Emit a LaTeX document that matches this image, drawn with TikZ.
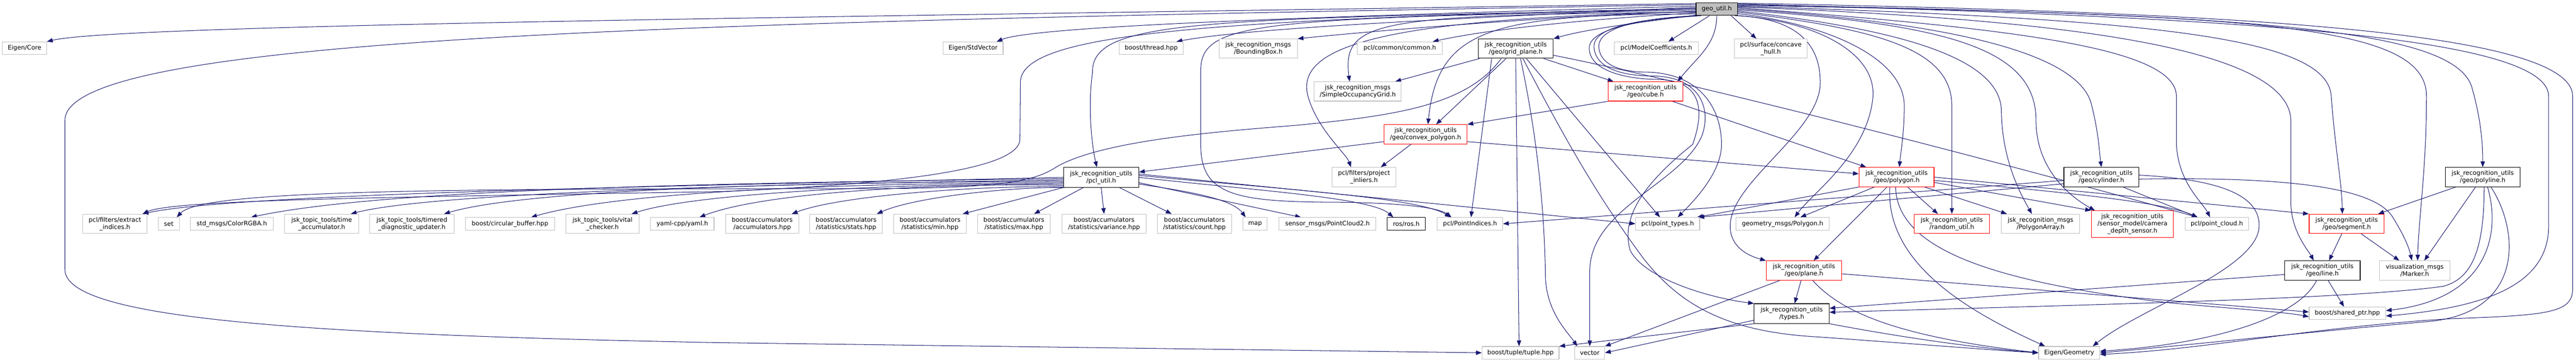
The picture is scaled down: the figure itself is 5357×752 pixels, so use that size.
\documentclass[tikz,border=0pt]{standalone}
\usepackage{fontspec}
\setmainfont{DejaVu Sans}
\usetikzlibrary{arrows.meta}
\pgfdeclarelayer{background}
\pgfsetlayers{background,main}
\definecolor{edgec}{HTML}{191970}
\definecolor{greyb}{HTML}{BFBFBF}
\begin{document}
\begin{tikzpicture}[x=1pt,y=-1pt,
  nbox/.style={rectangle, inner sep=0pt, align=center, font=\fontsize{12.8}{15}\selectfont, line width=1.2pt, fill=white},
  ext/.style={nbox, draw=greyb},
  doc/.style={nbox, draw=black},
  redb/.style={nbox, draw=red},
  root/.style={nbox, draw=black, fill=greyb},
  wh/.style 2 args={minimum width=#1pt, minimum height=#2pt},
  edg/.style={draw=edgec, line width=1.1pt, -{Triangle[length=12pt,width=9pt]}},
]
\useasboundingbox (0,0) rectangle (5357,752);
% ---------------- nodes ----------------
\node[root, wh={86}{26}] (G) at (3570,19) {geo\_util.h};
\node[ext, wh={92}{26}] (eigencore) at (51,100) {Eigen/Core};
\node[ext, wh={125}{26}] (stdvector) at (2023.5,100) {Eigen/StdVector};
\node[ext, wh={132}{26}] (thread) at (2394,100) {boost/thread.hpp};
\node[ext, wh={163}{40}] (bbox) at (2616.5,101) {jsk\_recognition\_msgs\\/BoundingBox.h};
\node[ext, wh={176}{26}] (common) at (2911,100) {pcl/common/common.h};
\node[doc, wh={156}{40}] (GP) at (3152,101) {jsk\_recognition\_utils\\/geo/grid\_plane.h};
\node[ext, wh={175}{26}] (modelcoef) at (3444.5,100) {pcl/ModelCoefficients.h};
\node[ext, wh={151}{40}] (concave) at (3682.5,101) {pcl/surface/concave\\\_hull.h};
\node[ext, wh={181}{40}] (occgrid) at (2823.5,190) {jsk\_recognition\_msgs\\/SimpleOccupancyGrid.h};
\node[redb, wh={156}{40}] (CB) at (3422,190) {jsk\_recognition\_utils\\/geo/cube.h};
\node[redb, wh={173}{40}] (CV) at (2964.5,279) {jsk\_recognition\_utils\\/geo/convex\_polygon.h};
\node[doc, wh={156}{41}] (P) at (2290,368.5) {jsk\_recognition\_utils\\/pcl\_util.h};
\node[ext, wh={133}{40}] (projinl) at (2836.5,368) {pcl/filters/project\\\_inliers.h};
\node[redb, wh={156}{40}] (PG) at (3944,368) {jsk\_recognition\_utils\\/geo/polygon.h};
\node[doc, wh={156}{40}] (CY) at (4370,368) {jsk\_recognition\_utils\\/geo/cylinder.h};
\node[doc, wh={156}{40}] (PL) at (5163,368) {jsk\_recognition\_utils\\/geo/polyline.h};
\node[ext, wh={134}{40}] (extract) at (239,465) {pcl/filters/extract\\\_indices.h};
\node[ext, wh={44}{26}] (nset) at (351,465) {set};
\node[ext, wh={172}{26}] (colorrgba) at (482,465) {std\_msgs/ColorRGBA.h};
\node[ext, wh={154}{40}] (timeacc) at (669,465) {jsk\_topic\_tools/time\\\_accumulator.h};
\node[ext, wh={175}{40}] (timered) at (856.5,465) {jsk\_topic\_tools/timered\\\_diagnostic\_updater.h};
\node[ext, wh={185}{26}] (circbuf) at (1060.5,465) {boost/circular\_buffer.hpp};
\node[ext, wh={152}{40}] (vital) at (1253,465) {jsk\_topic\_tools/vital\\\_checker.h};
\node[ext, wh={132}{26}] (yaml) at (1419,465) {yaml-cpp/yaml.h};
\node[ext, wh={152}{40}] (accum) at (1585,465) {boost/accumulators\\/accumulators.hpp};
\node[ext, wh={151}{40}] (stats) at (1759.5,465) {boost/accumulators\\/statistics/stats.hpp};
\node[ext, wh={151}{40}] (nmin) at (1934,465) {boost/accumulators\\/statistics/min.hpp};
\node[ext, wh={151}{40}] (nmax) at (2108.5,465) {boost/accumulators\\/statistics/max.hpp};
\node[ext, wh={174}{40}] (variance) at (2296,465) {boost/accumulators\\/statistics/variance.hpp};
\node[ext, wh={154}{40}] (count) at (2484,465) {boost/accumulators\\/statistics/count.hpp};
\node[ext, wh={50}{26}] (nmap) at (2610,465) {map};
\node[ext, wh={201}{26}] (pc2) at (2760.5,465) {sensor\_msgs/PointCloud2.h};
\node[doc, wh={79}{26}] (ros) at (2924.5,465) {ros/ros.h};
\node[ext, wh={136}{26}] (ptidx) at (3057,465) {pcl/PointIndices.h};
\node[ext, wh={133}{26}] (pttypes) at (3468,465) {pcl/point\_types.h};
\node[ext, wh={194}{26}] (geopoly) at (3707,465) {geometry\_msgs/Polygon.h};
\node[redb, wh={156}{40}] (random) at (4059,465) {jsk\_recognition\_utils\\/random\_util.h};
\node[ext, wh={163}{40}] (polyarr) at (4243.5,465) {jsk\_recognition\_msgs\\/PolygonArray.h};
\node[redb, wh={171}{55}] (camera) at (4434.5,465.5) {jsk\_recognition\_utils\\/sensor\_model/camera\\\_depth\_sensor.h};
\node[ext, wh={132}{26}] (ptcloud) at (4610,465) {pcl/point\_cloud.h};
\node[redb, wh={156}{40}] (SG) at (4880,465) {jsk\_recognition\_utils\\/geo/segment.h};
\node[redb, wh={157}{40}] (PN) at (3751.5,562) {jsk\_recognition\_utils\\/geo/plane.h};
\node[doc, wh={157}{40}] (LN) at (4829.5,562) {jsk\_recognition\_utils\\/geo/line.h};
\node[ext, wh={147}{40}] (marker) at (5021.5,562) {visualization\_msgs\\/Marker.h};
\node[doc, wh={156}{41}] (TY) at (3726,651.5) {jsk\_recognition\_utils\\/types.h};
\node[ext, wh={159}{26}] (sharedptr) at (4881.5,651) {boost/shared\_ptr.hpp};
\node[ext, wh={160}{26}] (tuple) at (3162,733) {boost/tuple/tuple.hpp};
\node[ext, wh={62}{26}] (nvector) at (3306,733) {vector};
\node[ext, wh={127}{26}] (eigengeom) at (4303,733) {Eigen/Geometry};
% ---------------- edges ----------------
\begin{pgfonlayer}{background}
\fill[white] (0,0) rectangle (5357,752);
% geo_util.h, left side
\draw[edg] (G.165) .. controls (1800,35) and (250,50) .. (eigencore.north east);
\draw[edg] (G.168) .. controls (1500,45) and (135,70) .. (135,250) -- (135,560) .. controls (135,660) and (600,695) .. (1500,712) -- (tuple.west);
\draw[edg] (G.172) .. controls (2700,35) and (2150,55) .. ([xshift=-14pt]stdvector.north east);
\draw[edg] (G.175) .. controls (3000,40) and (2600,58) .. ([xshift=-14pt]thread.north east);
\draw[edg] (G.186) .. controls (3200,35) and (2850,65) .. (bbox.north east);
\draw[edg] (G.190) .. controls (3300,40) and (3100,60) .. ([xshift=-20pt]common.north east);
\draw[edg] (G.196) .. controls (3420,45) and (3300,60) .. (GP.north east);
\draw[edg] ([xshift=-15pt]G.south) -- ([xshift=25pt]modelcoef.north);
\draw[edg] ([xshift=30pt]G.south) -- ([xshift=-30pt]concave.north);
\draw[edg] (G.south) .. controls +(0,60) and +(40,-50) .. ([xshift=-12pt]CB.north east);
\draw[edg] (G.193) .. controls (3100,30) and (2990,60) .. ([xshift=5pt]CV.north);
\draw[edg] (G.188) .. controls (2870,32) and (2790,40) .. ([xshift=-17pt]occgrid.north);
\draw[edg] (G.187) .. controls (2900,38) and (2690,90) .. (2720,200) .. controls (2740,270) and (2800,320) .. ([xshift=-27pt]projinl.north);
\draw[edg] (G.180) .. controls (2500,40) and (2270,40) .. (2272,150) .. controls (2262,220) and (2270,300) .. ([xshift=-9pt]P.north);
\draw[edg] (G.178) .. controls (2500,40) and (2125,70) .. (2122,170) -- (2121,290) .. controls (2118,360) and (1800,385) .. (1500,398) .. controls (800,410) and (360,415) .. ([xshift=-10pt]extract.north east);
\draw[edg] (G.183) .. controls (2600,38) and (2495,45) .. (2497,150) -- (2497,300) .. controls (2497,400) and (2560,418) .. (2750,420) .. controls (2900,420) and (2990,430) .. ([xshift=30pt]ptidx.north west);
\draw[edg] (G.199) .. controls (3400,38) and (3320,60) .. (3325,100) .. controls (3330,140) and (3380,150) .. (3430,150) .. controls (3540,155) and (3580,230) .. (3580,300) .. controls (3580,360) and (3520,420) .. ([xshift=21pt]pttypes.north);
\draw[edg] (G.201) .. controls (3390,40) and (3310,60) .. (3315,100) .. controls (3320,145) and (3380,158) .. (3440,158) .. controls (3530,160) and (3560,220) .. (3540,280) .. controls (3500,380) and (3310,430) .. (3306,560) -- (nvector.north);
\draw[edg] (G.203) .. controls (3395,42) and (3305,62) .. (3305,100) .. controls (3305,150) and (3390,165) .. (3450,165) .. controls (3540,168) and (3545,230) .. (3520,300) .. controls (3420,380) and (3370,450) .. (3390,520) .. controls (3420,580) and (3560,620) .. (TY.north west);
% geo_util.h, right side
\draw[edg] (G.-20) .. controls (3720,36) and (3790,80) .. (3785,180) .. controls (3775,280) and (3598,380) .. (3598,470) .. controls (3598,510) and (3630,530) .. (PN.north west);
\draw[edg] (G.-17) .. controls (3780,45) and (3900,110) .. (3895,200) .. controls (3885,320) and (3770,400) .. ([xshift=25pt]geopoly.north);
\draw[edg] (G.-12) .. controls (3800,50) and (3960,120) .. (3960,220) .. controls (3960,280) and (3952,320) .. ([xshift=6pt]PG.north);
\draw[edg] (G.-8) .. controls (3900,60) and (4059,100) .. (4059,220) -- (random.north);
\draw[edg] (G.-5) .. controls (3950,60) and (4160,120) .. (4162,230) .. controls (4163,330) and (4200,400) .. ([xshift=-18pt]polyarr.north);
\draw[edg] (G.-2) .. controls (4050,50) and (4234,100) .. (4234,250) .. controls (4234,340) and (4290,400) .. ([xshift=8pt]camera.north west);
\draw[edg] (G.1) .. controls (4100,50) and (4330,120) .. (4350,220) .. controls (4365,280) and (4366,320) .. (CY.north);
\draw[edg] (G.4) .. controls (4200,60) and (4525,100) .. (4526,200) -- (4526,300) .. controls (4530,380) and (4580,420) .. ([xshift=-14pt]ptcloud.north);
\draw[edg] (G.6) .. controls (4300,40) and (4760,100) .. (4764,250) -- (4764,420) .. controls (4764,480) and (4800,520) .. ([xshift=-18pt]LN.north);
\draw[edg] (G.8) .. controls (4500,40) and (4840,80) .. (4848,200) .. controls (4855,300) and (4870,380) .. ([xshift=-9pt]SG.north);
\draw[edg] (G.10) .. controls (4700,30) and (5046,50) .. (5046,200) .. controls (5046,350) and (5030,450) .. ([xshift=6pt]marker.north);
\draw[edg] (G.12) .. controls (4700,30) and (5100,60) .. (5140,180) .. controls (5160,250) and (5163,300) .. (PL.north);
\draw[edg] (G.14) .. controls (4600,35) and (5300,70) .. (5300,200) -- (5300,470) .. controls (5300,600) and (5150,640) .. (sharedptr.-4);
\draw[edg] (G.16) .. controls (4600,25) and (5350,60) .. (5350,200) -- (5350,600) .. controls (5350,650) and (5300,655) .. (5100,662) .. controls (4800,680) and (4600,725) .. (eigengeom.-3);
% grid_plane.h
\draw[edg] ([xshift=-75pt]GP.south) -- ([xshift=-13pt]occgrid.north east);
\draw[edg] ([xshift=-20pt]GP.south) -- ([xshift=22pt]CV.north);
\draw[edg] ([xshift=58pt]GP.south) -- ([xshift=12pt]CB.north west);
\draw[edg] ([xshift=-30pt]GP.south) .. controls (3050,220) and (2900,240) .. (2700,260) .. controls (2550,272) and (2300,290) .. (2200,345) .. controls (2160,370) and (2120,392) .. (1800,392) .. controls (900,392) and (420,395) .. ([xshift=-6pt]nset.north east);
\draw[edg] ([xshift=-50pt]GP.south) -- ([xshift=2pt]ptidx.north);
\draw[edg] (GP.south) -- ([xshift=-3pt]tuple.north);
\draw[edg] ([xshift=10pt]GP.south) .. controls (3200,300) and (3212,450) .. (3214,580) .. controls (3218,650) and (3260,690) .. ([xshift=-26pt]nvector.north);
\draw[edg] ([xshift=22pt]GP.south) -- ([xshift=-16pt]pttypes.north);
\draw[edg] ([xshift=15pt]GP.south) .. controls (3260,300) and (3330,420) .. (3420,540) .. controls (3500,640) and (3600,690) .. (3780,700) .. controls (3950,712) and (4150,728) .. (eigengeom.west);
\draw[edg] (GP.-10) .. controls (3500,168) and (4100,320) .. ([xshift=-40pt]ptcloud.north);
% convex_polygon.h and cube.h
\draw[edg] (CV.190) -- (P.8);
\draw[edg] ([xshift=-30pt]CV.south) -- ([xshift=35pt]projinl.north);
\draw[edg] (CV.-10) -- (PG.175);
\draw[edg] (CB.south west) -- (CV.north east);
\draw[edg] ([xshift=56pt]CB.south) -- ([xshift=-63pt]PG.north);
% pcl_util.h
\draw[edg] (P.west) .. controls (1500,385) and (500,400) .. ([xshift=-10pt]extract.north east);
\draw[edg] (P.182) .. controls (1500,380) and (800,392) .. ([xshift=40pt]colorrgba.north);
\draw[edg] (P.184) .. controls (1600,382) and (900,400) .. ([xshift=-17pt]timeacc.north east);
\draw[edg] (P.186) .. controls (1700,378) and (1100,392) .. ([xshift=-21pt]timered.north east);
\draw[edg] (P.188) .. controls (1800,380) and (1300,395) .. ([xshift=44pt]circbuf.north);
\draw[edg] (P.190) .. controls (1900,380) and (1450,400) .. ([xshift=-16pt]vital.north east);
\draw[edg] (P.192) .. controls (2000,380) and (1600,395) .. ([xshift=-31pt]yaml.north east);
\draw[edg] (P.194) .. controls (2050,385) and (1750,405) .. ([xshift=-15pt]accum.north east);
\draw[edg] (P.196) .. controls (2100,388) and (1900,410) .. ([xshift=-12pt]stats.north east);
\draw[edg] (P.south west) -- ([xshift=-8pt]nmin.north east);
\draw[edg] ([xshift=-37pt]P.south) -- ([xshift=42pt]nmax.north);
\draw[edg] (P.south) -- (variance.north);
\draw[edg] ([xshift=38pt]P.south) -- ([xshift=30pt]count.north west);
\draw[edg] (P.-10) .. controls (2450,395) and (2560,410) .. ([xshift=6pt]nmap.north west);
\draw[edg] (P.-8) -- ([xshift=46pt]pc2.north west);
\draw[edg] (P.0) .. controls (2600,395) and (2850,410) .. ([xshift=13pt]ros.north west);
\draw[edg] (P.3) .. controls (2650,392) and (2950,410) .. ([xshift=28pt]ptidx.north west);
\draw[edg] (P.5) -- (pttypes.west);
% polygon.h
\draw[edg] ([xshift=-46pt]PG.south) -- ([xshift=37pt]geopoly.north);
\draw[edg] ([xshift=-20pt]PG.south) -- ([xshift=20pt]PN.north);
\draw[edg] ([xshift=23pt]PG.south) -- ([xshift=-29pt]random.north);
\draw[edg] ([xshift=58pt]PG.south) -- ([xshift=12pt]polyarr.north west);
\draw[edg] (PG.-8) -- (camera.north west);
\draw[edg] ([xshift=-14pt]PG.south) .. controls (3920,550) and (4100,650) .. ([xshift=-50pt]eigengeom.north);
\draw[edg] ([xshift=-2pt]PG.south) .. controls (3945,520) and (4150,585) .. (4500,628) .. controls (4650,642) and (4750,648) .. (sharedptr.185);
\draw[edg] (PG.east) -- (SG.north west);
\draw[edg] (PG.-5) .. controls (4300,400) and (4500,420) .. ([xshift=-40pt]ptcloud.north);
\draw[edg] (PG.south west) -- ([xshift=-6pt]pttypes.north east);
% cylinder.h
\draw[edg] (CY.185) -- (ptidx.east);
\draw[edg] (CY.190) -- ([xshift=-3pt]pttypes.north east);
\draw[edg] (CY.-3) .. controls (4700,368) and (4930,380) .. (4975,450) .. controls (5000,490) and (5010,515) .. ([xshift=-6pt]marker.north);
\draw[edg] (CY.3) .. controls (4600,372) and (4700,400) .. (4698,470) .. controls (4695,560) and (4450,640) .. ([xshift=49pt]eigengeom.north);
\draw[edg] ([xshift=45pt]CY.south) -- ([xshift=-40pt]ptcloud.north);
% segment.h
\draw[edg] ([xshift=-10pt]SG.south) -- ([xshift=14pt]LN.north);
\draw[edg] ([xshift=30pt]SG.south) -- ([xshift=-32pt]marker.north);
% polyline.h
\draw[edg] ([xshift=-56pt]PL.south) -- ([xshift=-13pt]SG.north east);
\draw[edg] ([xshift=-15pt]PL.south) -- ([xshift=20pt]marker.north);
\draw[edg] ([xshift=3pt]PL.south) .. controls (5166,520) and (5140,580) .. (5080,595) .. controls (4900,620) and (4400,632) .. (TY.2);
\draw[edg] ([xshift=10pt]PL.south) .. controls (5200,480) and (5180,620) .. (sharedptr.4);
\draw[edg] ([xshift=17pt]PL.south) .. controls (5240,480) and (5250,650) .. (5050,668) .. controls (4800,690) and (4500,722) .. (eigengeom.east);
% plane.h
\draw[edg] ([xshift=-6pt]PN.south) -- ([xshift=6pt]TY.north);
\draw[edg] ([xshift=18pt]PN.south) .. controls (3830,650) and (3950,700) .. (eigengeom.west);
\draw[edg] (PN.-5) -- (sharedptr.178);
\draw[edg] ([xshift=-50pt]PN.south) -- (nvector.north east);
% types.h
\draw[edg] (TY.south east) .. controls (3950,700) and (4100,722) .. (eigengeom.west);
\draw[edg] (TY.south west) -- (tuple.north east);
\draw[edg] (TY.190) -- (nvector.east);
% line.h
\draw[edg] ([xshift=12pt]LN.south) -- ([xshift=-7pt]sharedptr.north);
\draw[edg] ([xshift=-12pt]LN.south) .. controls (4780,660) and (4600,715) .. (eigengeom.3);
\draw[edg] (LN.186) -- (TY.8);
\end{pgfonlayer}
\end{tikzpicture}
\end{document}
